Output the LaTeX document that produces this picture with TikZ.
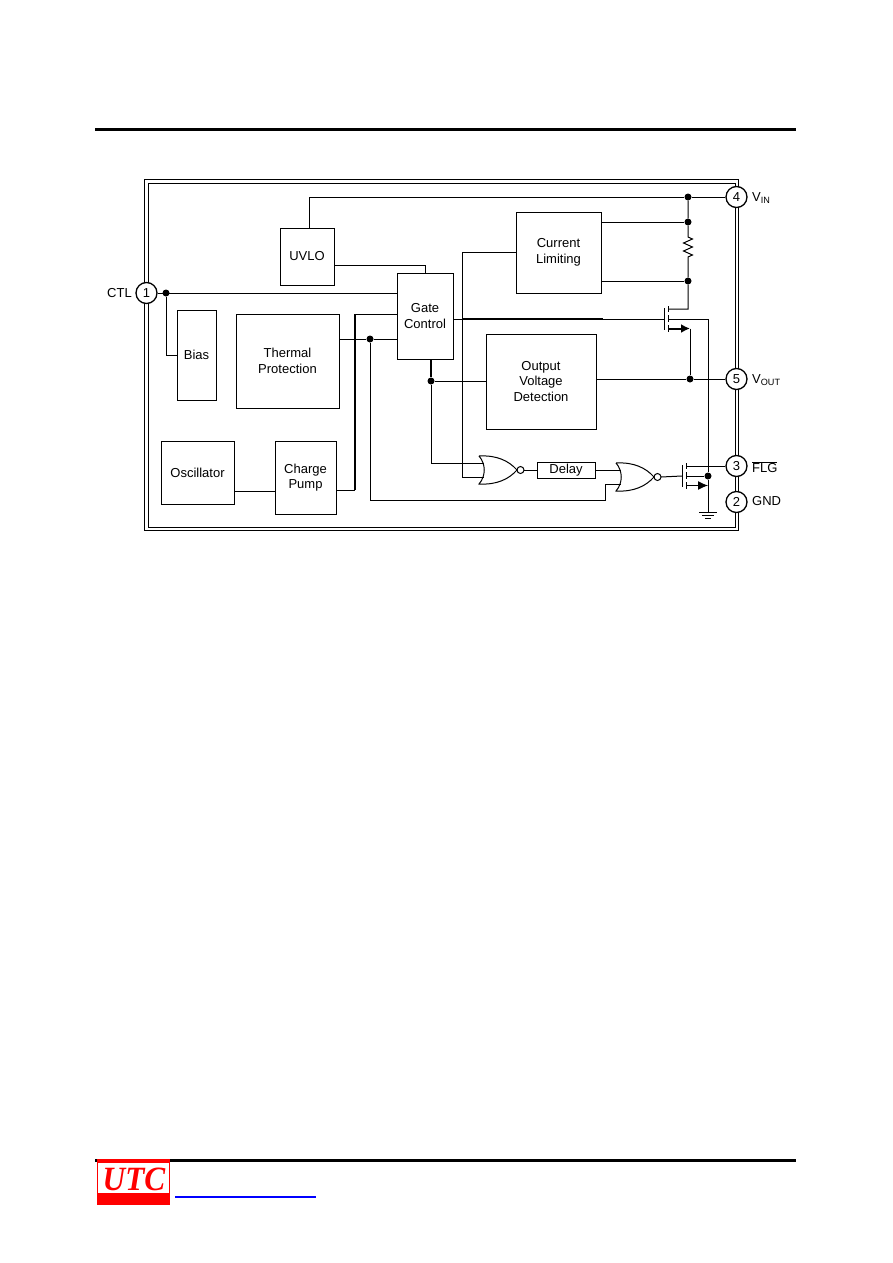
\documentclass[tikz,border=0pt]{standalone}
\usepackage{fontspec}
\setmainfont{Liberation Sans}
\newfontfamily\logofont{Liberation Serif}
\usetikzlibrary{arrows.meta}
\definecolor{utcred}{RGB}{255,0,0}
\definecolor{linkblue}{RGB}{0,0,255}

\begin{document}
\begin{tikzpicture}[x=1pt, y=-1pt,
    wire/.style={draw=black, line width=1pt},
    bus/.style={draw=black, line width=2pt},
    rule/.style={draw=black, line width=3pt},
    blk/.style 2 args={rectangle, draw=black, line width=1pt, align=center,
              minimum width=#1, minimum height=#2, inner sep=0pt,
              font=\fontsize{13}{15.5}\selectfont},
    pin/.style={circle, draw=black, fill=white, line width=1.3pt,
              minimum size=21pt, inner sep=0pt, font=\fontsize{13}{15}\selectfont},
    dot/.style={circle, fill=black, minimum size=7pt, inner sep=0pt},
    lab/.style={font=\fontsize{13}{15}\selectfont, inner sep=0pt},
    norgate/.pic={
      \draw[wire] (0,-14) .. controls (18,-15) and (30,-9) .. (38,0)
        .. controls (30,9) and (18,15) .. (0,14)
        .. controls (7,6) and (7,-6) .. (0,-14);
      \draw[wire] (41.5,0) circle (3.5);
      \coordinate (-in1) at (4.5,-7);
      \coordinate (-in2) at (4.5,7);
      \coordinate (-out) at (45,0);},
    fetsym/.pic={
      \draw[wire] (0,-11) -- (0,11);
      \draw[wire] (4,-13) -- (4,-7);
      \draw[wire] (4,-4) -- (4,3);
      \draw[wire] (4,6) -- (4,13);
      \coordinate (-g) at (0,0);
      \coordinate (-d) at (4,-10);
      \coordinate (-m) at (4,0);
      \coordinate (-s) at (4,9.5);}]
  \useasboundingbox (0,0) rectangle (892,1263);
  % --- page rules and logo --------------------------------------------------
  \coordinate (ruleA) at (95,129);   \coordinate (ruleB) at (796,129);
  \coordinate (ruleC) at (95,1160);  \coordinate (ruleD) at (796,1160);
  \coordinate (linkA) at (175,1197); \coordinate (linkB) at (316,1197);
  \draw[rule] (ruleA) -- (ruleB);
  \draw[rule] (ruleC) -- (ruleD);
  \draw[linkblue, line width=2pt] (linkA) -- (linkB);
  \fill[utcred] (97,1159) rectangle (170,1205);
  \fill[white] (98,1163) rectangle (169,1193);
  \node[inner sep=0pt, text=utcred, xscale=0.92, transform shape] (logo) at (134,1179)
    {\fontsize{34}{34}\logofont\bfseries\itshape UTC};
  % --- double frame ----------------------------------------------------------
  \draw[wire] (144,179) rectangle (738.5,530.5);
  \draw[wire] (148,183) rectangle (735.5,527);
  % --- blocks -----------------------------------------------------------------
  \node[blk={54pt}{57pt}] (uvlo) at (307,256.5) {UVLO};
  \node[blk={85pt}{81pt}] (curlim) at (558.5,252.5) {Current\\Limiting};
  \node[blk={56pt}{86pt}] (gate) at (425,316) {Gate\\Control};
  \node[blk={39pt}{90pt}] (bias) at (196.5,355) {Bias};
  \node[blk={103pt}{94pt}] (therm) at (287.5,361) {Thermal\\Protection};
  \node[blk={110pt}{95pt}] (ovd) at (541,381.5) {Output\\Voltage\\Detection};
  \node[blk={73pt}{63pt}] (osc) at (197.5,472.5) {Oscillator};
  \node[blk={61pt}{73pt}] (chg) at (305.5,477.5) {Charge\\Pump};
  \node[blk={58pt}{16pt}] (delay) at (566,470) {Delay};
  % --- pins -------------------------------------------------------------------
  \foreach \n/\x/\y in {1/146.5/293, 4/736.5/197, 5/736.5/379, 3/736.5/466, 2/736.5/502} {
    \node[pin] (p\n) at (\x,\y) {\n}; }
  \node[lab, anchor=east] (tCtl) at (132,293) {CTL};
  \node[lab, anchor=west] (tIn) at (752,198) {V\textsubscript{IN}};
  \node[lab, anchor=west] (tOut) at (752,380) {V\textsubscript{OUT}};
  \node[lab, anchor=west] (tFlg) at (752,467) {$\overline{\mbox{FLG}}$};
  \node[lab, anchor=west] (tGnd) at (752,501) {GND};
  % --- gates and transistors --------------------------------------------------
  \pic (n1) at (479,470) {norgate};
  \pic (n2) at (616,477) {norgate};
  \pic (q1) at (664,319) {fetsym};
  \pic (q2) at (682,476) {fetsym};
  % --- junctions --------------------------------------------------------------
  \node[dot] (dIn) at (688,197) {};
  \node[dot] (dCa) at (688,222) {};
  \node[dot] (dCb) at (688,281) {};
  \node[dot] (dOut) at (690,379) {};
  \node[dot] (dCtl) at (166,293) {};
  \node[dot] (dTh) at (370,339) {};
  \node[dot] (dGt) at (431,381) {};
  \node[dot] (dFlg) at (708,476) {};
  \coordinate (rTop) at (688,237);
  \coordinate (yUv) at (425,265);
  \coordinate (cBus) at (355,314);
  \coordinate (cBusB) at (355,490);
  \coordinate (cOsc) at (255,491);
  \coordinate (cFb) at (605,500);
  \coordinate (cSense) at (462,252.5);
  \coordinate (cGa) at (462,319);
  \coordinate (cGb) at (603,319);
  \coordinate (gnd) at (708,512);
  % --- supply side ------------------------------------------------------------
  \draw[wire] ([xshift=2pt]uvlo.north) |- (dIn) -- (p4);
  \draw[wire] (dIn) -- (dCa) -- (rTop) -- ++(4.5,2) -- ++(-9,4) -- ++(9,4)
    -- ++(-9,4) -- ++(9,4) -- ++(-4.5,2) -- (dCb) |- (q1-d);
  \draw[wire] (curlim.east |- dCa) -- (dCa);
  \draw[wire] (curlim.east |- dCb) -- (dCb);
  \draw[wire] (q1-s -| dOut) -- (dOut);
  \draw[bus, -{Latex[length=9pt,width=9pt]}] (q1-s) -- (q1-s -| dOut);
  \draw[wire] (ovd.east |- p5) -- (dOut) -- (p5);
  % --- control side -----------------------------------------------------------
  \draw[wire] (p1) -- (gate.west |- p1);
  \draw[wire] (dCtl) |- (bias.west);
  \draw[wire] (uvlo.east |- yUv) -- (yUv) -- (gate.north);
  \draw[wire] (therm.east |- dTh) -- (dTh) -- (gate.west |- dTh);
  \draw[wire] (dTh) |- (cFb) |- (n2-in2);
  \draw[wire] (gate.west |- cBus) -- (cBus);
  \draw[bus] (cBus) -- (cBusB);
  \draw[wire] (chg.east |- cBusB) -- (cBusB);
  \draw[wire] (osc.east |- cOsc) -- (chg.west |- cOsc);
  \draw[bus] (gate.south -| dGt) -- (dGt);
  \draw[wire] (dGt) |- (n1-in1);
  \draw[wire] (dGt) -- (ovd.west |- dGt);
  \draw[wire] (curlim.west) -- (cSense) |- (n1-in2);
  \draw[wire] (gate.east |- cGa) -- (cGa);
  \draw[bus] (cGa) -- (cGb);
  \draw[wire] (cGb) -- (q1-g);
  \draw[wire] (q1-m) -| (dFlg);
  % --- flag output ------------------------------------------------------------
  \draw[wire] (n1-out) -- (delay.west);
  \draw[wire] (delay.east) -- (n2-in1);
  \draw[wire] (n2-out) -- (q2-g);
  \draw[wire] (q2-d) -- (p3);
  \draw[wire] (q2-m) -- (dFlg) -- (gnd);
  \draw[wire, -{Latex[length=10pt,width=9pt]}] (q2-s) -- (q2-s -| dFlg);
  \draw[wire] ([xshift=-9pt]gnd) -- ([xshift=9pt]gnd);
  \draw[wire] ([xshift=-6pt,yshift=-3pt]gnd) -- ([xshift=6pt,yshift=-3pt]gnd);
  \draw[wire] ([xshift=-3pt,yshift=-6pt]gnd) -- ([xshift=3pt,yshift=-6pt]gnd);
\end{tikzpicture}
\end{document}
